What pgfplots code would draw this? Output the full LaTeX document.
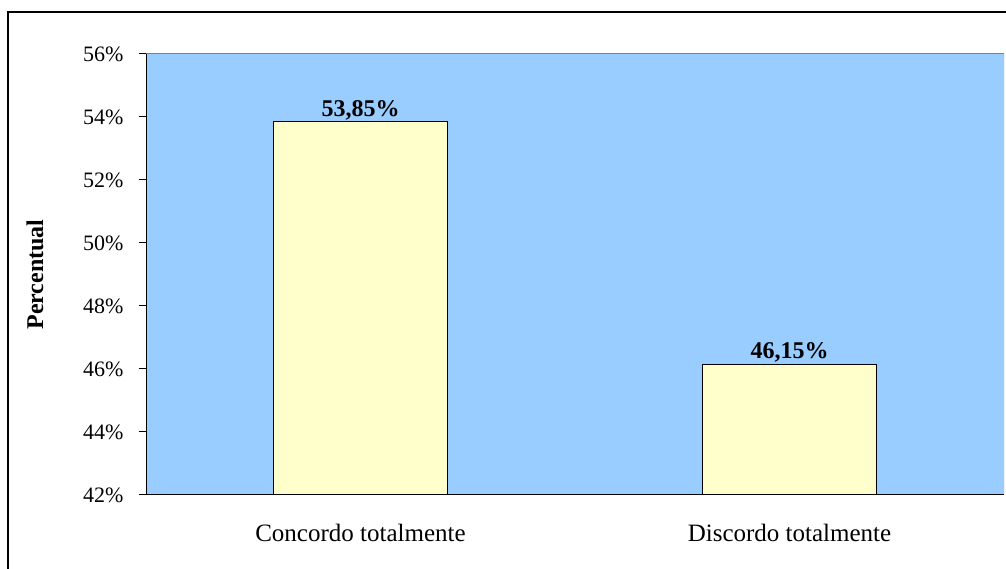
\documentclass[border=0pt]{standalone}
\usepackage{pgfplots}
\pgfplotsset{compat=1.18}
\usepackage{fontspec}
\setmainfont{Liberation Serif}
\definecolor{plotbg}{HTML}{99CCFF}
\definecolor{barfill}{HTML}{FFFFCC}
\begin{document}
\begin{tikzpicture}[x=1pt,y=1pt]
\clip (0,0) rectangle (1006,569);
\fill[white] (0,0) rectangle (1006,569);
\draw[line width=2pt] (8,-30) rectangle (1040,557);
\begin{axis}[
  at={(146pt,74pt)}, anchor=south west,
  scale only axis, width=858pt, height=441pt,
  xmin=-0.5, xmax=1.5, ymin=42, ymax=56,
  axis line style={draw=none},
  axis background/.style={fill=plotbg},
  ytick={42,44,46,48,50,52,54,56},
  yticklabels={42\%,44\%,46\%,48\%,50\%,52\%,54\%,56\%},
  xtick={0,1},
  xticklabels={Concordo totalmente,Discordo totalmente},
  extra x ticks={-0.5,0.5,1.5},
  extra x tick labels={},
  x tick style={draw=none},
  extra x tick style={major tick style={draw=black, line width=1pt}, major tick length=7pt},
  tick align=outside,
  major tick length=7pt,
  y tick style={black, line width=1pt},
  xtick pos=bottom, ytick pos=left,
  yticklabel style={font=\fontsize{22}{26}\selectfont, xshift=-12pt},
  xticklabel style={font=\fontsize{25}{29}\selectfont, yshift=-19pt},
  ylabel={\textbf{Percentual}},
  every axis y label/.style={at={(rel axis cs:-0.1294,0.5)}, rotate=90, anchor=center, font=\fontsize{24}{28}\selectfont},
  /pgf/number format/assume math mode=true,
  ybar, bar width=174pt,
  nodes near coords={\pgfmathprintnumber[fixed,precision=2,fixed zerofill,use comma]{\pgfplotspointmeta}\%},
  every node near coord/.append style={font=\bfseries\fontsize{24}{28}\selectfont, inner sep=1pt},
]
\addplot[draw=black, line width=1.2pt, fill=barfill] coordinates {(0,53.85) (1,46.15)};
\draw[gray, line width=1pt] (rel axis cs:0,1) -- (rel axis cs:1,1) -- (rel axis cs:1,0);
\draw[black, line width=1.5pt] (rel axis cs:0,1) -- (rel axis cs:0,0) -- (rel axis cs:1,0);
\end{axis}
\end{tikzpicture}
\end{document}
